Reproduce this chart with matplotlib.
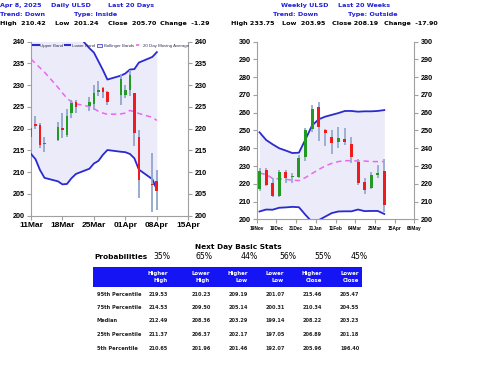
import matplotlib
matplotlib.use("Agg")
import matplotlib.pyplot as plt
import matplotlib.dates as mdates
from matplotlib.lines import Line2D
from matplotlib.patches import Rectangle, Patch
import pandas as pd
import numpy as np

# ---------------- data ----------------
dates_d = ['2025-03-11','2025-03-12','2025-03-13','2025-03-14','2025-03-17','2025-03-18','2025-03-19',
           '2025-03-20','2025-03-21','2025-03-24','2025-03-25','2025-03-26','2025-03-27','2025-03-28',
           '2025-03-31','2025-04-01','2025-04-02','2025-04-03','2025-04-04','2025-04-07','2025-04-08']
open_d  = [218.2, 221.0, 220.9, 216.4, 217.5, 220.2, 218.6, 223.6, 226.1, 225.2, 225.6, 228.5, 229.4, 228.5,
           227.7, 227.8, 228.9, 228.1, 218.2, 207.2, 208.0]
close_d = [220.2, 220.6, 216.3, 216.8, 220.5, 219.8, 223.0, 226.0, 224.9, 226.2, 228.3, 228.9, 228.5, 226.2,
           231.5, 228.8, 232.3, 218.9, 208.2, 206.99, 205.70]
high_d  = [221.0, 223.0, 221.3, 218.2, 221.5, 223.5, 224.5, 226.6, 226.6, 227.2, 230.0, 231.0, 229.6, 228.6,
           232.5, 230.0, 233.5, 228.3, 219.8, 214.5, 210.42]
low_d   = [217.5, 219.9, 215.6, 214.7, 217.2, 217.8, 218.2, 222.5, 223.5, 224.0, 224.2, 227.6, 227.0, 225.5,
           225.5, 227.0, 227.6, 216.0, 204.0, 200.9, 201.24]
upper_d = [252.0, 251.0, 250.0, 249.0, 246.0, 245.0, 243.5, 242.8, 242.0, 238.5, 237.5, 235.5, 233.5, 231.3,
           232.2, 232.7, 233.6, 233.7, 235.2, 236.5, 237.6]
lower_d = [214.2, 213.0, 210.5, 208.7, 207.9, 207.2, 207.3, 208.6, 209.6, 210.8, 212.0, 212.6, 214.0, 215.1,
           214.7, 214.6, 214.2, 213.2, 210.6, 208.4, 206.0]
ma_d    = [236.0, 235.0, 234.0, 233.0, 229.5, 228.2, 227.0, 226.2, 225.7, 225.1, 224.6, 224.0, 223.6, 223.3,
           223.4, 223.6, 224.2, 223.9, 223.5, 222.6, 221.9]

dates_w = ['2024-11-22','2024-11-29','2024-12-06','2024-12-13','2024-12-20','2024-12-27','2025-01-03',
           '2025-01-10','2025-01-17','2025-01-24','2025-01-31','2025-02-07','2025-02-14','2025-02-21',
           '2025-02-28','2025-03-07','2025-03-14','2025-03-21','2025-03-28','2025-04-04']
open_w  = [216.9, 227.8, 220.3, 213.1, 226.8, 223.6, 224.0, 235.3, 250.8, 263.4, 250.5, 246.5, 243.6, 245.0,
           242.4, 232.5, 221.2, 217.4, 225.2, 227.4]
close_w = [227.4, 219.3, 213.3, 226.8, 223.1, 224.5, 234.7, 250.3, 261.9, 251.8, 248.4, 242.8, 245.9, 243.4,
           235.3, 220.6, 216.5, 224.9, 226.09, 208.19]
high_w  = [229.0, 229.0, 223.5, 227.5, 227.5, 226.0, 236.0, 251.5, 264.5, 266.2, 251.0, 250.3, 252.2, 251.5,
           246.5, 234.0, 223.0, 226.5, 230.6, 233.75]
low_w   = [216.0, 218.5, 212.5, 212.5, 220.5, 220.3, 223.0, 233.0, 249.0, 244.1, 241.5, 236.8, 240.0, 242.0,
           231.5, 219.5, 214.5, 217.0, 223.1, 203.95]
upper_w = [249.0, 244.7, 242.2, 240.0, 238.7, 237.3, 237.5, 245.0, 252.8, 256.3, 257.8, 258.8, 259.8, 261.0,
           261.0, 260.6, 260.8, 260.8, 261.0, 261.5]
lower_w = [204.4, 205.5, 205.4, 206.5, 206.7, 207.0, 206.8, 202.5, 198.5, 199.5, 201.5, 203.5, 204.4, 204.5,
           204.5, 205.5, 204.6, 204.7, 204.7, 203.0]
ma_w    = [226.0, 225.3, 223.0, 222.8, 222.5, 222.0, 221.8, 223.5, 225.8, 228.0, 230.0, 231.5, 232.5, 233.0,
           233.0, 232.8, 232.8, 232.5, 232.5, 232.5]

xticks_d = ['2025-03-11','2025-03-18','2025-03-25','2025-04-01','2025-04-08','2025-04-15']
xticks_w = ['2024-11-19','2024-12-10','2024-12-31','2025-01-21','2025-02-11','2025-03-04','2025-03-25',
            '2025-04-15','2025-05-06']
yticks_d = [200, 205, 210, 215, 220, 225, 230, 235, 240]
yticks_w = [200, 210, 220, 230, 240, 250, 260, 270, 280, 290, 300]

legend_labels = ['Upper Band', 'Lower Band', 'Bollinger Bands', '20 Day Moving Average']

stat_cols = [('Higher', 'High'), ('Lower', 'High'), ('Higher', 'Low'), ('Lower', 'Low'),
             ('Higher', 'Close'), ('Lower', 'Close')]
probs = ['35%', '65%', '44%', '56%', '55%', '45%']
row_labels = ['95th Percentile', '75th Percentile', 'Median', '25th Percentile', '5th Percentile']
stat_vals = [
    ['219.53', '210.23', '209.19', '201.07', '215.46', '205.47'],
    ['214.53', '209.50', '205.14', '200.31', '210.34', '204.55'],
    ['212.49', '208.36', '203.29', '199.14', '208.22', '203.23'],
    ['211.37', '206.37', '202.17', '197.05', '206.89', '201.18'],
    ['210.65', '201.96', '201.46', '192.07', '205.96', '196.40'],
]

# ---------------- style ----------------
W, H = 480, 371
BLUE_TXT = '#1f1fd6'
BAND = '#2a2ad0'
FILL = '#ebebfa'
MA_C = '#ee66ee'
WICK = '#8fa6cc'
UP_C = '#239a23'
DN_C = '#ee1c1c'
SP = '#a0a0a0'
TICKFONT = 'Liberation Sans'

fig = plt.figure(figsize=(W / 100, H / 100), dpi=100)
fig.patch.set_facecolor('white')

def fx(px):
    return px / W

def fy(py):
    return 1 - py / H

def candle_axes(ax, dates, o, c, hi, lo, up, lw_, ma, body_w, xlim, xt, xt_fmt, yt, ylim,
                xfs, yfs, wick_lw):
    x = mdates.date2num(pd.to_datetime(dates))
    ax.fill_between(x, np.array(lw_), np.array(up), color=FILL, lw=0, zorder=1)
    ax.plot(x, up, color=BAND, lw=1.3, zorder=3)
    ax.plot(x, lw_, color=BAND, lw=1.3, zorder=3)
    ax.plot(x, ma, color=MA_C, lw=1.1, ls=(0, (3.5, 2.5)), zorder=3)
    ax.vlines(x, lo, hi, color=WICK, lw=wick_lw, zorder=4)
    o = np.array(o); c = np.array(c)
    cols = [UP_C if cc >= oo else DN_C for oo, cc in zip(o, c)]
    bottoms = np.minimum(o, c)
    heights = np.maximum(np.abs(c - o), 0.12 * (ylim[1] - ylim[0]) / 40)
    ax.bar(x, heights, bottom=bottoms, width=body_w, color=cols, lw=0, zorder=5)
    ax.set_xlim(mdates.date2num(pd.to_datetime(xlim[0])), mdates.date2num(pd.to_datetime(xlim[1])))
    ax.set_ylim(*ylim)
    xtn = mdates.date2num(pd.to_datetime(xt))
    ax.set_xticks(xtn)
    ax.set_xticklabels([pd.to_datetime(d).strftime(xt_fmt) for d in xt],
                       fontfamily=TICKFONT, fontweight='bold', fontsize=xfs)
    ax.set_yticks(yt)
    ax.set_yticklabels([str(v) for v in yt], fontfamily=TICKFONT, fontweight='bold', fontsize=yfs)
    ax.tick_params(axis='y', which='both', left=True, right=True, labelleft=True, labelright=True,
                   length=3, width=0.8, color=SP, pad=1.5)
    ax.tick_params(axis='x', length=3, width=0.8, color=SP, pad=1.5)
    ax.spines['top'].set_visible(False)
    for s in ['left', 'right', 'bottom']:
        ax.spines[s].set_color(SP)
        ax.spines[s].set_linewidth(0.8)
    ax.set_facecolor('white')

# left daily chart
axL = fig.add_axes([fx(31), fy(215.7), fx(188.3) - fx(31), fy(41.7) - fy(215.7)])
candle_axes(axL, dates_d, open_d, close_d, high_d, low_d, upper_d, lower_d, ma_d, 0.6,
            ('2025-03-11', '2025-04-15'), xticks_d, '%d%b', yticks_d, (200, 240),
            6.0, 5.2, 1.3)

handles = [Line2D([], [], color=BAND, lw=1.5), Line2D([], [], color=BAND, lw=1.5),
           Patch(facecolor=FILL, edgecolor=BAND, lw=0.5),
           Line2D([], [], color=MA_C, lw=1.2, ls=(0, (2, 1.5)))]
axL.legend(handles, legend_labels, ncol=4, loc='upper left', bbox_to_anchor=(0.0, 1.0),
           frameon=False, prop={'family': TICKFONT, 'size': 3.2}, handlelength=1.2,
           handletextpad=0.3, columnspacing=0.5, borderaxespad=0.3, borderpad=0.2,
           labelcolor='#333355')

# right weekly chart
axR = fig.add_axes([fx(256.7), fy(219.3), fx(414.3) - fx(256.7), fy(41.7) - fy(219.3)])
candle_axes(axR, dates_w, open_w, close_w, high_w, low_w, upper_w, lower_w, ma_w, 3.2,
            ('2024-11-19', '2025-05-06'), xticks_w, '%d%b', yticks_w, (200, 300),
            3.4, 5.2, 1.2)

# ---------------- header texts ----------------
HFS = 4.6
def htxt(px, py, s, color):
    fig.text(fx(px), fy(py), s, fontsize=HFS, fontweight='bold', color=color,
             fontfamily='DejaVu Sans', va='center', ha='left')

htxt(0, 5.8, 'Apr 8, 2025', BLUE_TXT)
htxt(51, 5.8, 'Daily ULSD', BLUE_TXT)
htxt(107.7, 5.8, 'Last 20 Days', BLUE_TXT)
htxt(0, 14.3, 'Trend: Down', BLUE_TXT)
htxt(74, 14.3, 'Type: Inside', BLUE_TXT)
htxt(0, 23.3, 'High  210.42', 'black')
htxt(55, 23.3, 'Low  201.24', 'black')
htxt(108.3, 23.3, 'Close  205.70', 'black')
htxt(160, 23.3, 'Change  -1.29', 'black')

htxt(281, 5.8, 'Weekly ULSD', BLUE_TXT)
htxt(337.7, 5.8, 'Last 20 Weeks', BLUE_TXT)
htxt(272.7, 14.3, 'Trend: Down', BLUE_TXT)
htxt(348.3, 14.3, 'Type: Outside', BLUE_TXT)
htxt(231, 23.3, 'High 233.75', 'black')
htxt(281.7, 23.3, 'Low  203.95', 'black')
htxt(331.5, 23.3, 'Close 208.19', 'black')
htxt(384.3, 23.3, 'Change  -17.90', 'black')

# ---------------- stats table ----------------
fig.text(fx(238), fy(247.3), 'Next Day Basic Stats', fontsize=5.3, fontweight='bold',
         ha='center', va='center', fontfamily='DejaVu Sans')
fig.text(fx(94), fy(256.7), 'Probabilities', fontsize=5.3, fontweight='bold',
         ha='left', va='center', fontfamily='DejaVu Sans')
prob_x = [161.7, 204, 249, 287.7, 322.5, 359]
for px, s in zip(prob_x, probs):
    fig.text(fx(px), fy(256.7), s, fontsize=5.6, ha='center', va='center',
             fontfamily='DejaVu Sans', fontweight='medium')

fig.add_artist(Rectangle((fx(93), fy(286.7)), fx(362) - fx(93), fy(267.3) - fy(286.7),
                         transform=fig.transFigure, color='#1414f5', lw=0, zorder=0))
col_right = [168, 210, 247.7, 284, 322, 359]
for px, (l1, l2) in zip(col_right, stat_cols):
    fig.text(fx(px), fy(273.3), l1, fontsize=3.9, fontweight='bold', color='white',
             ha='right', va='center', fontfamily='DejaVu Sans', zorder=2)
    fig.text(fx(px), fy(280.7), l2, fontsize=3.9, fontweight='bold', color='white',
             ha='right', va='center', fontfamily='DejaVu Sans', zorder=2)

val_x = [149, 191.7, 229, 265.7, 302.7, 340]
row_y = [294, 307.7, 321, 335, 348.3]
for ry, lab, vals in zip(row_y, row_labels, stat_vals):
    fig.text(fx(96.7), fy(ry), lab, fontsize=3.7, fontweight='bold', ha='left', va='center',
             fontfamily='DejaVu Sans', color='#222222')
    for px, v in zip(val_x, vals):
        fig.text(fx(px), fy(ry), v, fontsize=3.6, fontweight='bold', ha='left', va='center',
                 fontfamily='DejaVu Sans', color='#222222')

fig.savefig('out.png', dpi=100, facecolor='white')
